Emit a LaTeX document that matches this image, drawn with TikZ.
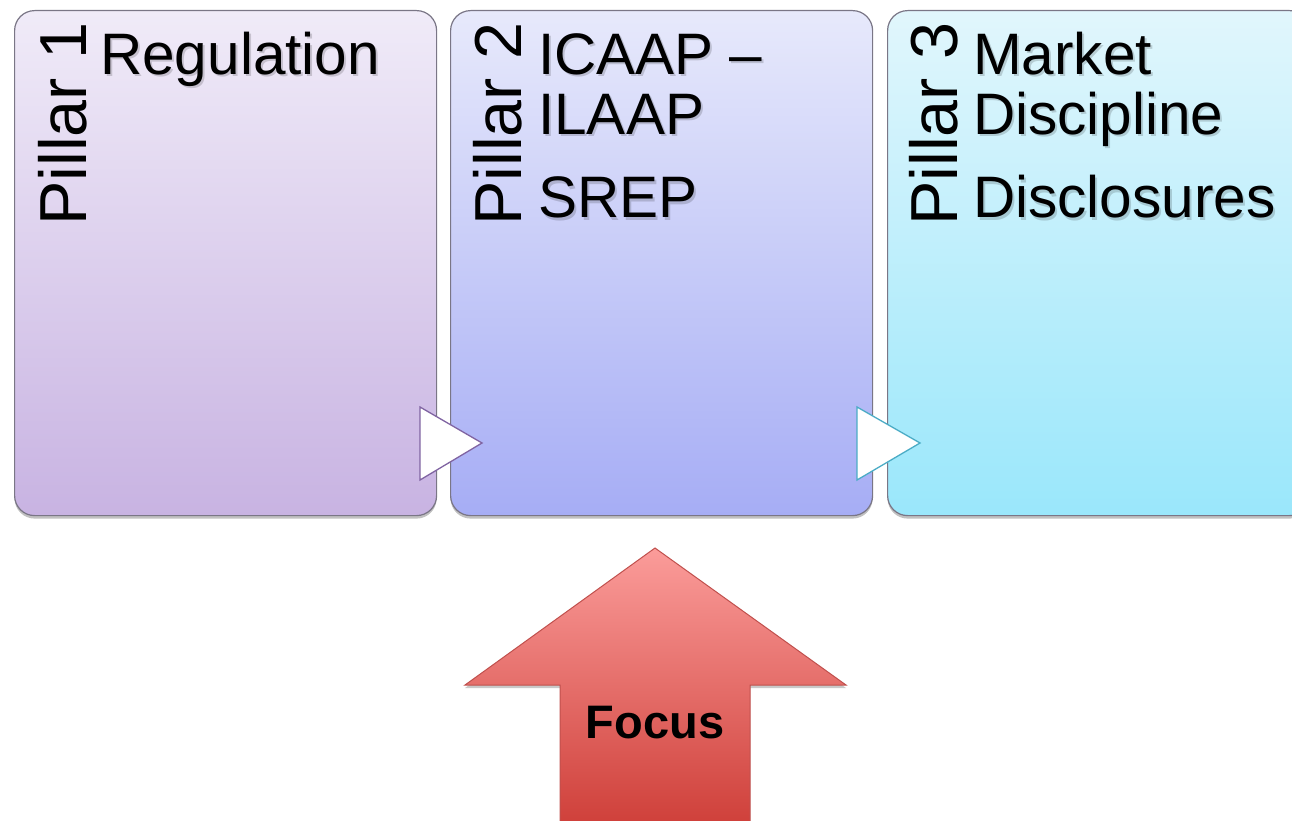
\documentclass[tikz,border=0pt]{standalone}
\usepackage{fontspec}
\setmainfont{Liberation Sans}
\usetikzlibrary{shadows}
\definecolor{boxborder}{HTML}{7A7686}
\definecolor{ptop}{HTML}{F0EBF8}
\definecolor{pbot}{HTML}{C8B3E2}
\definecolor{btop}{HTML}{E7E9FB}
\definecolor{bbot}{HTML}{A6ADF5}
\definecolor{ctop}{HTML}{E1F6FC}
\definecolor{cbot}{HTML}{9AE7FB}
\definecolor{chevp}{HTML}{8064A2}
\definecolor{chevc}{HTML}{4BACC6}
\definecolor{atop}{HTML}{FB9C9A}
\definecolor{abot}{HTML}{CE3E38}
\definecolor{aborder}{HTML}{C0504D}
\begin{document}
\begin{tikzpicture}[x=1pt,y=-1pt,
  pillarbox/.style={draw=boxborder, line width=1.2pt, rounded corners=20pt,
    minimum width=422pt, minimum height=505pt, inner sep=0pt, anchor=north west,
    drop shadow={shadow xshift=0pt, shadow yshift=-3pt, opacity=.35, fill=black!70}},
  bigtext/.style={inner sep=0pt, anchor=base west, font=\fontsize{58.5}{60}\selectfont, text=black},
  shtext/.style={inner sep=0pt, anchor=base west, font=\fontsize{58.5}{60}\selectfont, text=black, opacity=.16},
  pillartext/.style={inner sep=0pt, anchor=base west, rotate=90, font=\fontsize{66.5}{68}\selectfont, text=black},
  chevron/.style={fill=white, line width=1.3pt, line join=miter},
]
\useasboundingbox (0,0) rectangle (1292,821);
\clip (0,0) rectangle (1292,821);

% boxes
\node[pillarbox, top color=ptop, bottom color=pbot] (p1) at (14,10) {};
\node[pillarbox, top color=btop, bottom color=bbot] (p2) at (450,10) {};
\node[pillarbox, top color=ctop, bottom color=cbot] (p3) at (887,10) {};

% chevrons
\draw[chevron, draw=chevp] (420,407) -- (482,443) -- (420,480) -- cycle;
\draw[chevron, draw=chevc] (857,407) -- (920,443) -- (857,480) -- cycle;

% pillar labels
\node[pillartext] (l1) at (86,226) {Pillar 1};
\node[pillartext] (l2) at (521,226) {Pillar 2};
\node[pillartext] (l3) at (957,226) {Pillar 3};

% text shadows
\node[shtext] (s1) at (102,77) {Regulation};
\node[shtext] (s2a) at (540,77) {ICAAP –};
\node[shtext] (s2b) at (540,137) {ILAAP};
\node[shtext] (s2c) at (540,220) {SREP};
\node[shtext] (s3a) at (975,77) {Market};
\node[shtext] (s3b) at (975,137) {Discipline};
\node[shtext] (s3c) at (975,220) {Disclosures};

% texts
\node[bigtext] (t1) at (100,75) {Regulation};
\node[bigtext] (t2a) at (538,75) {ICAAP –};
\node[bigtext] (t2b) at (538,135) {ILAAP};
\node[bigtext] (t2c) at (538,218) {SREP};
\node[bigtext] (t3a) at (973,75) {Market};
\node[bigtext] (t3b) at (973,135) {Discipline};
\node[bigtext] (t3c) at (973,218) {Disclosures};

% focus arrow
\draw[draw=aborder, line width=1pt, line join=miter, top color=atop, bottom color=abot,
  drop shadow={shadow xshift=0pt, shadow yshift=-3pt, opacity=.3, fill=black!70}]
  (655,548) -- (846,685) -- (750,685) -- (750,830) -- (560,830) -- (560,685) -- (465,685) -- cycle;
\node[inner sep=0pt, anchor=base, font=\fontsize{47}{50}\selectfont\bfseries] (focus) at (655,738) {Focus};
\end{tikzpicture}
\end{document}
